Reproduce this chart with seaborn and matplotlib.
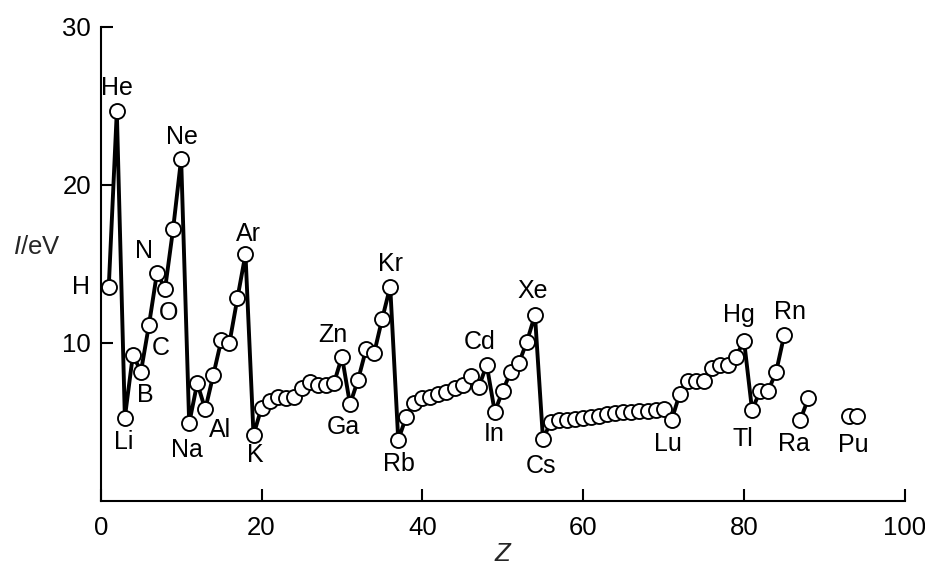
import numpy as np
import pandas as pd
import matplotlib
matplotlib.use("Agg")
import matplotlib.pyplot as plt
import seaborn as sns

# ---------------- data ----------------
# main run H ... Rn (Rn drawn at Z = 85 in the original figure)
Z_main = list(range(1, 86))
I_main = [13.56, 24.64, 5.28, 9.24, 8.18, 11.14, 14.45, 13.42, 17.20, 21.65,   # 1-10
          4.92, 7.45, 5.80, 7.97, 10.19, 9.98, 12.83, 15.61,                     # 11-18
          4.18, 5.90, 6.33, 6.60, 6.50, 6.56, 7.13, 7.51, 7.34, 7.34, 7.45,      # 19-29
          9.13, 6.12, 7.66, 9.60, 9.35, 11.52, 13.56,                            # 30-36
          3.86, 5.34, 6.18, 6.50, 6.60, 6.75, 6.92, 7.13, 7.34, 7.91, 7.20,      # 37-47
          8.61, 5.65, 6.98, 8.18, 8.72, 10.08, 11.77,                            # 48-54
          3.92, 5.02, 5.10, 5.15, 5.20, 5.26, 5.33, 5.39, 5.48, 5.58, 5.60,      # 55-65
          5.63, 5.68, 5.72, 5.77, 5.82,                                          # 66-70
          5.13, 6.77, 7.59, 7.59, 7.59, 8.40, 8.61, 8.61, 9.13, 10.15,           # 71-80
          5.76, 6.96, 6.96, 8.18, 10.50]                                         # 81-85
# isolated pairs
Z_ra = [87, 88]
I_ra = [5.13, 6.50]
Z_pu = [93, 94]
I_pu = [5.40, 5.40]

# element labels and the Z of the point each one belongs to
label_text = ["H", "He", "Li", "B", "C", "N", "O", "Ne", "Na", "Al", "Ar", "K",
              "Zn", "Ga", "Kr", "Rb", "Cd", "In", "Xe", "Cs", "Lu", "Hg", "Tl",
              "Rn", "Ra", "Pu"]
label_Z = [1, 2, 3, 5, 6, 7, 8, 10, 11, 13, 18, 19,
           30, 31, 36, 37, 48, 49, 54, 55, 71, 80, 81,
           85, 87, 93]

x_ticks = [0, 20, 40, 60, 80, 100]
y_ticks = [10, 20, 30]

# ---------------- layout / style (not data) ----------------
# label offsets from their point, in pixels (converted to points below)
label_offset_px = {
    "H": (-19, 0), "He": (0, 23.5), "Li": (-1.5, -24), "B": (4.5, -23),
    "C": (11.5, -23), "N": (-13.5, 21.5), "O": (3.5, -24), "Ne": (0.5, 21.5),
    "Na": (-2, -27), "Al": (15, -21), "Ar": (3, 20.5), "K": (2, -20),
    "Zn": (-9.5, 22), "Ga": (-6.5, -22.5), "Kr": (0.5, 22.5), "Rb": (1, -24.5),
    "Cd": (-7.5, 23), "In": (-0.5, -22.5), "Xe": (-2.5, 24), "Cs": (-2, -26.5),
    "Lu": (-4, -24), "Hg": (-5.5, 25.5), "Tl": (-9.5, -29.5), "Rn": (6, 22.5),
    "Ra": (-6, -24.5), "Pu": (5, -29),
}

sns.set_style("ticks")
plt.rcParams["font.family"] = ["Liberation Sans", "DejaVu Sans"]
plt.rcParams["mathtext.fontset"] = "custom"
plt.rcParams["mathtext.it"] = "Liberation Sans:italic"
plt.rcParams["mathtext.rm"] = "Liberation Sans"

df = pd.DataFrame({
    "Z": Z_main + Z_ra + Z_pu,
    "I": I_main + I_ra + I_pu,
    "segment": ["main"] * len(Z_main) + ["ra"] * len(Z_ra) + ["pu"] * len(Z_pu),
})

fig = plt.figure(figsize=(9.25, 5.64), dpi=100)
ax = fig.add_axes([0.1089, 0.1117, 0.8693, 0.8410])

sns.lineplot(data=df, x="Z", y="I", units="segment", estimator=None, sort=False,
             color="black", linewidth=2.8, marker="o", markersize=10.8,
             markerfacecolor="white", markeredgecolor="black",
             markeredgewidth=1.35, legend=False, ax=ax)

ax.set_xlim(0, 100)
ax.set_ylim(0, 30)
ax.set_xticks(x_ticks)
ax.set_yticks(y_ticks)
ax.set_xticklabels([str(v) for v in x_ticks])
ax.set_yticklabels([str(v) for v in y_ticks])

for s in ["top", "right"]:
    ax.spines[s].set_visible(False)
for s in ["left", "bottom"]:
    ax.spines[s].set_linewidth(1.5)
    ax.spines[s].set_color("black")

ax.tick_params(axis="both", direction="in", length=8.6, width=1.5,
               labelsize=18.5, colors="black")
ax.tick_params(axis="x", pad=11)
ax.tick_params(axis="y", pad=7)

ax.set_xlabel("Z", fontsize=18.5, fontstyle="italic", labelpad=1)
ax.set_ylabel(r"$I$/eV", fontsize=18.5, rotation=0)
ax.yaxis.set_label_coords(-0.079, 0.535)
ax.yaxis.label.set_verticalalignment("center")
ax.yaxis.label.set_horizontalalignment("center")

lookup = dict(zip(df["Z"], df["I"]))
for txt, z in zip(label_text, label_Z):
    dx, dy = label_offset_px[txt]
    ha = "right" if txt == "H" else "center"
    ax.annotate(txt, xy=(z, lookup[z]), xytext=(dx * 0.72, dy * 0.72),
                textcoords="offset points", ha=ha, va="center",
                fontsize=18, color="black", annotation_clip=False)

fig.savefig("out.png", dpi=100)
